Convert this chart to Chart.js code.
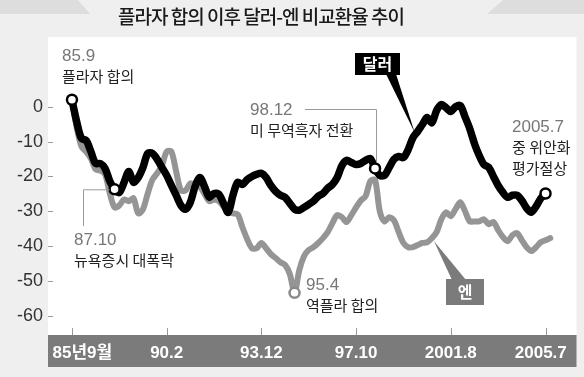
<!DOCTYPE html>
<html>
<head>
<meta charset="utf-8">
<script src="https://cdn.jsdelivr.net/npm/chart.js@4.4.1/dist/chart.umd.min.js"></script>
<style>
  html, body { margin: 0; padding: 0; background: #efefef; }
  canvas { display: block; }
</style>
</head>
<body>
<canvas id="grafico" width="584" height="377"></canvas>
<script>
// 85.9 기준 대비 변화율(%)
const xLabels = ['85년9월', '90.2', '93.12', '97.10', '2001.8', '2005.7'];
const yTicks = [0, -10, -20, -30, -40, -50, -60];
const pointsPerLabel = 20;

const dollar = [
  2.0, -4.3, -9.1, -9.7, -12.9, -16.3, -16.3, -17.7, -21.4, -23.7,
  -24.6, -21.7, -18.6, -21.7, -20.3, -17.4, -13.4, -13.4, -15.1, -17.4,
  -19.7, -22.6, -25.4, -28.3, -29.4, -27.4, -22.9, -20.3, -22.9, -26.0,
  -24.9, -25.1, -27.7, -30.3, -25.4, -21.7, -22.3, -20.9, -20.0, -19.4,
  -19.1, -20.3, -22.6, -24.3, -25.4, -26.0, -27.7, -29.4, -29.7, -28.9,
  -28.0, -27.1, -25.7, -24.9, -23.4, -22.3, -20.3, -16.9, -15.4, -16.0,
  -16.6, -16.3, -15.4, -14.9, -17.7, -19.7, -19.7, -17.4, -15.1, -14.3,
  -14.6, -12.3, -8.9, -7.1, -5.1, -3.1, -4.6, -1.1, 0.6, -0.3,
  -1.4, 0.0, 0.3, -2.9, -6.3, -10.6, -14.0, -16.6, -17.4, -20.0,
  -22.6, -24.6, -26.0, -25.4, -25.4, -26.9, -29.1, -30.3, -28.6, -26.3,
  -24.9
];

const yen = [
  2.0, -6.0, -11.4, -12.9, -14.9, -18.0, -18.3, -19.4, -24.9, -28.9,
  -28.3, -26.6, -27.1, -26.3, -30.6, -29.4, -24.9, -20.9, -19.1, -16.9,
  -12.9, -12.9, -18.6, -24.0, -24.0, -22.0, -22.6, -22.9, -25.1, -27.1,
  -26.6, -27.1, -28.6, -30.3, -30.6, -30.9, -34.6, -38.0, -40.6, -40.6,
  -39.1, -40.6, -42.3, -43.4, -44.6, -45.4, -48.0, -53.4, -46.9, -42.9,
  -41.1, -40.3, -39.1, -37.7, -36.0, -33.4, -31.1, -31.7, -33.1, -31.1,
  -28.9, -26.9, -25.7, -21.4, -21.0, -30.0, -32.9, -31.7, -32.6, -36.0,
  -39.1, -40.3, -40.3, -39.7, -39.1, -38.9, -37.7, -36.0, -32.3, -30.3,
  -31.4, -29.4, -27.4, -30.0, -32.9, -32.9, -32.9, -32.3, -33.7, -33.1,
  -35.4, -37.4, -38.6, -36.9, -36.3, -38.3, -40.3, -41.4, -40.3, -38.9,
  -38.3, -37.7
];

const dollarMarks = [0, 9, 64, 100];
const yenMarks = [47];
// 눈금 글자 위치 보정 (첫 글자는 오른쪽으로 치우쳐 있음)
const xLabelShift = [0.11, 0, 0, 0, 0, -0.05];

const KR = '"Noto Sans CJK KR", sans-serif';
const NUM = '"Liberation Sans", "Noto Sans CJK KR", sans-serif';

const toPoints = arr => arr.map((v, i) => ({ x: i / pointsPerLabel, y: v }));

const fondo = {
  id: 'fondo',
  beforeDraw(chart) {
    const { ctx, chartArea: a } = chart;
    ctx.save();
    ctx.fillStyle = '#efefef';
    ctx.fillRect(0, 0, chart.width, chart.height);
    // 상단 모서리 장식
    ctx.fillStyle = '#dddddd';
    ctx.beginPath();
    ctx.moveTo(0, 0); ctx.lineTo(78, 0); ctx.lineTo(90, 14); ctx.lineTo(0, 14);
    ctx.fill();
    ctx.beginPath();
    ctx.moveTo(503, 0); ctx.lineTo(584, 0); ctx.lineTo(584, 14); ctx.lineTo(487, 14);
    ctx.fill();
    // 제목
    ctx.fillStyle = '#1a1a1a';
    ctx.font = '500 19px ' + KR;
    ctx.letterSpacing = '-1px';
    ctx.textAlign = 'center';
    ctx.textBaseline = 'middle';
    ctx.fillText('플라자 합의 이후 달러-엔 비교환율 추이', 261, 17);
    ctx.letterSpacing = '0px';
    // 흰 패널과 x축 띠
    ctx.fillStyle = '#ffffff';
    ctx.fillRect(a.left, a.top, a.right - a.left, a.bottom - a.top);
    ctx.fillStyle = '#7b7b7b';
    ctx.fillRect(a.left, a.bottom, a.right - a.left, 32);
    // 눈금
    ctx.strokeStyle = '#9a9a9a';
    ctx.lineWidth = 1;
    const ys = chart.scales.y, xs = chart.scales.x;
    yTicks.forEach(v => {
      const y = Math.round(ys.getPixelForValue(v)) + 0.5;
      ctx.beginPath(); ctx.moveTo(a.left, y); ctx.lineTo(a.left + 5, y); ctx.stroke();
    });
    xLabels.forEach((l, i) => {
      const x = Math.round(xs.getPixelForValue(i)) + 0.5;
      ctx.beginPath(); ctx.moveTo(x, a.bottom - 7); ctx.lineTo(x, a.bottom); ctx.stroke();
    });
    ctx.restore();
  },
  afterDatasetsDraw(chart) {
    const { ctx } = chart;
    const xs = chart.scales.x, ys = chart.scales.y;
    const px = i => xs.getPixelForValue(i / pointsPerLabel);
    ctx.save();
    // 연결선
    ctx.strokeStyle = '#999';
    ctx.lineWidth = 1;
    const p87 = { x: px(9), y: ys.getPixelForValue(dollar[9]) };
    ctx.beginPath();
    ctx.moveTo(83.5, 226); ctx.lineTo(83.5, p87.y + 0.5); ctx.lineTo(p87.x - 5, p87.y + 0.5);
    ctx.stroke();
    const p98 = { x: px(64), y: ys.getPixelForValue(dollar[64]) };
    ctx.beginPath();
    ctx.moveTo(305, 109.5); ctx.lineTo(p98.x + 1.5, 109.5); ctx.lineTo(p98.x + 1.5, p98.y - 6);
    ctx.stroke();

    // 주석 텍스트
    ctx.textAlign = 'left';
    ctx.textBaseline = 'middle';
    const note = (num, lines, x, y) => {
      ctx.fillStyle = '#777';
      ctx.font = '17px ' + NUM;
      ctx.fillText(num, x, y);
      ctx.fillStyle = '#222';
      ctx.font = '15px ' + KR;
      lines.forEach((t, k) => ctx.fillText(t, x, y + 20 + k * 21));
    };
    note('85.9', ['플라자 합의'], 62, 56);
    note('87.10', ['뉴욕증시 대폭락'], 74, 240);
    note('98.12', ['미 무역흑자 전환'], 250, 110);
    note('95.4', ['역플라 합의'], 306, 285);
    note('2005.7', ['중 위안화', '평가절상'], 512, 127);

    // 범례 상자
    ctx.fillStyle = '#000';
    ctx.beginPath();
    ctx.moveTo(386, 74); ctx.lineTo(396, 74); ctx.lineTo(px(73) - 3, ys.getPixelForValue(dollar[73]) + 1);
    ctx.fill();
    ctx.fillRect(355, 53, 45, 22);
    ctx.fillStyle = '#7b7b7b';
    ctx.beginPath();
    ctx.moveTo(452, 280); ctx.lineTo(466, 280); ctx.lineTo(px(76) + 2, ys.getPixelForValue(yen[76]) + 3);
    ctx.fill();
    ctx.fillRect(446, 279, 38, 26);
    ctx.fillStyle = '#fff';
    ctx.font = 'bold 16px ' + KR;
    ctx.textAlign = 'center';
    ctx.fillText('달러', 377.5, 64);
    ctx.fillText('엔', 465, 292);
    ctx.restore();
  }
};

new Chart(document.getElementById('grafico').getContext('2d'), {
  type: 'line',
  data: {
    datasets: [
      {
        label: '달러',
        data: toPoints(dollar),
        borderColor: '#000',
        borderWidth: 7.5,
        tension: 0.3,
        borderJoinStyle: 'round',
        borderCapStyle: 'round',
        pointRadius: ctx => dollarMarks.includes(ctx.dataIndex) ? 5 : 0,
        pointBackgroundColor: '#fff',
        pointBorderColor: '#000',
        pointBorderWidth: 2.5,
        pointHoverRadius: 0,
        order: 1
      },
      {
        label: '엔',
        data: toPoints(yen),
        borderColor: '#959595',
        borderWidth: 6,
        tension: 0.3,
        borderJoinStyle: 'round',
        borderCapStyle: 'round',
        pointRadius: ctx => yenMarks.includes(ctx.dataIndex) ? 5 : 0,
        pointBackgroundColor: '#fff',
        pointBorderColor: '#8a8a8a',
        pointBorderWidth: 2.5,
        pointHoverRadius: 0,
        order: 2
      }
    ]
  },
  options: {
    responsive: false,
    animation: false,
    devicePixelRatio: 1,
    layout: { padding: { top: 37, right: 7, left: 0, bottom: 0 } },
    plugins: {
      legend: { display: false },
      tooltip: { enabled: false }
    },
    scales: {
      x: {
        type: 'linear',
        min: -0.253,
        max: 5.327,
        afterBuildTicks: s => { s.ticks = xLabels.map((l, i) => ({ value: i + xLabelShift[i] })); },
        afterFit: s => { s.height = 42; },
        grid: { display: false, drawTicks: false },
        border: { display: false },
        ticks: {
          autoSkip: false,
          maxRotation: 0,
          padding: 8,
          color: '#fff',
          font: { size: 17, weight: 'bold', family: NUM },
          callback: (v, i) => xLabels[i]
        }
      },
      y: {
        min: -65.5,
        max: 20,
        afterBuildTicks: s => { s.ticks = yTicks.map(v => ({ value: v })); },
        afterFit: s => { s.width = 48; },
        grid: { display: false, drawTicks: false },
        border: { display: false },
        ticks: {
          padding: 5,
          color: '#333',
          font: { size: 18, family: NUM }
        }
      }
    }
  },
  plugins: [fondo]
});
</script>
</body>
</html>
